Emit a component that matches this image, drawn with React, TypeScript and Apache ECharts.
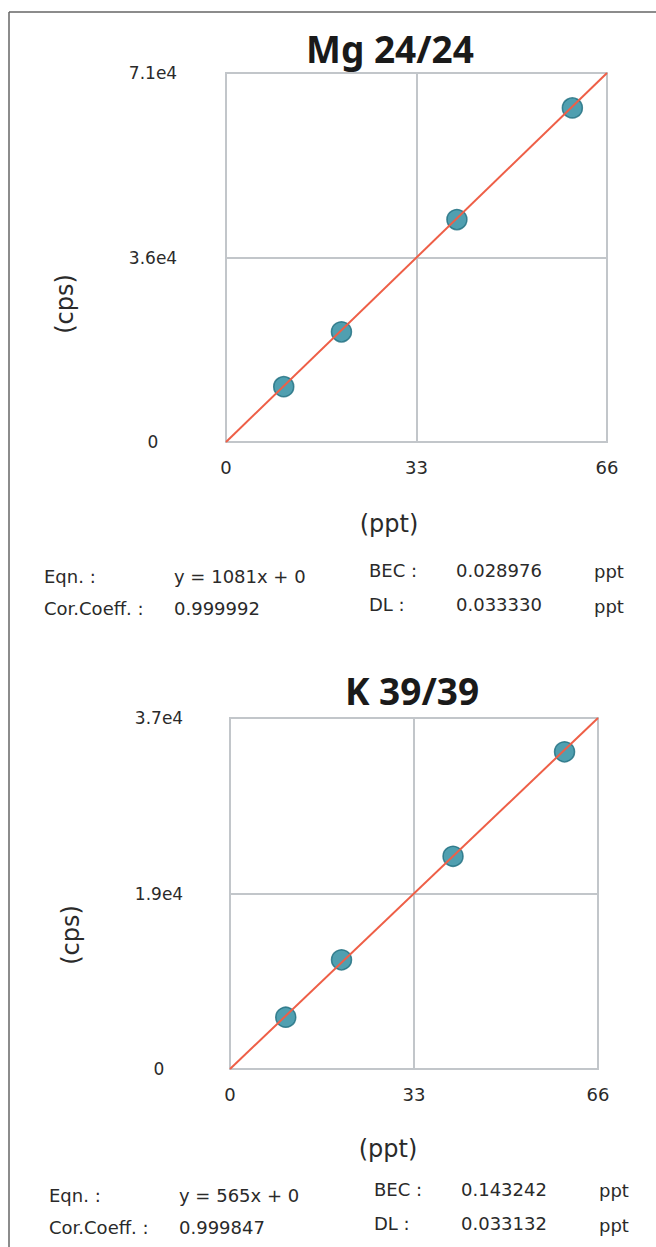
import React, { useEffect, useRef } from 'react';
import * as echarts from 'echarts';

// ---- data ----
const mgTitle = 'Mg 24/24';
const kTitle = 'K 39/39';
const mgConc = [10, 20, 40, 60];
const mgCps = [10700, 21300, 43000, 64600];
const kConc = [10, 20, 40, 60];
const kCps = [5500, 11600, 22600, 33700];
const xTickStep = 33;
const xMax = 66;
const mgYMax = 71346;
const kYMax = 37290;
const mgFitLine = [[0, 0], [66, 71346]];
const kFitLine = [[0, 0], [66, 37290]];
const mgStats = ['y = 1081x + 0', '0.999992', '0.028976', '0.033330'];
const kStats = ['y = 565x + 0', '0.999847', '0.143242', '0.033132'];
const statLabels = ['Eqn. :', 'Cor.Coeff. :', 'BEC :', 'DL :', 'ppt'];
const xName = '(ppt)';
const yName = '(cps)';

const FONT = '"DejaVu Sans", "Noto Sans", sans-serif';
const TFONT = '"Noto Sans", "Open Sans", sans-serif';
const TXT = '#2a2a2a';
const GRIDC = '#c2c6ca';

function fmtY(v: number) {
  if (v === 0) return '0';
  return v.toExponential(1).replace('e+', 'e');
}

function txt(x: number, y: number, text: string, size: number, opts: any = {}) {
  return {
    type: 'text',
    x,
    y,
    rotation: opts.rotation || 0,
    style: {
      text,
      fontSize: size,
      fontFamily: opts.font || FONT,
      fontWeight: opts.bold ? 'bold' : 'normal',
      fill: opts.color || TXT,
      align: opts.align || 'left',
      verticalAlign: 'middle',
    },
  };
}

export default function App() {
  const ref = useRef<HTMLDivElement>(null);
  useEffect(() => {
    document.body.style.margin = '0';
    const chart = echarts.init(ref.current!, null, { renderer: 'svg' });

    const grids = [
      { left: 226, top: 73, width: 381, height: 369 },
      { left: 230, top: 718, width: 368, height: 351 },
    ];
    const yMaxes = [mgYMax, kYMax];
    const labelCenters = [153, 159];

    const xAxes = grids.map((g, i) => ({
      type: 'value',
      gridIndex: i,
      min: 0,
      max: xMax,
      interval: xTickStep,
      axisLine: { show: true, lineStyle: { color: GRIDC, width: 2 } },
      axisTick: { show: false },
      axisLabel: { color: TXT, fontSize: 18, fontFamily: FONT, margin: 16 },
      splitLine: { show: true, lineStyle: { color: GRIDC, width: 2 } },
    }));
    const yAxes = grids.map((g, i) => ({
      type: 'value',
      gridIndex: i,
      min: 0,
      max: yMaxes[i],
      interval: yMaxes[i] / 2,
      axisLine: { show: true, lineStyle: { color: GRIDC, width: 2 } },
      axisTick: { show: false },
      axisLabel: {
        color: TXT,
        fontSize: 17,
        fontFamily: FONT,
        align: 'center',
        margin: g.left - labelCenters[i],
        formatter: (v: number) => fmtY(v),
      },
      splitLine: { show: true, lineStyle: { color: GRIDC, width: 2 } },
    }));

    const dot = {
      type: 'scatter',
      symbol: 'circle',
      symbolSize: 20,
      itemStyle: { color: '#24879c', borderColor: '#1b6c7d', borderWidth: 1.5 },
      z: 2,
    };
    const fit = {
      type: 'line',
      symbol: 'none',
      lineStyle: { color: '#ee5f47', width: 2 },
      z: 3,
    };

    const FS = 18;
    const statBlock = (top: number, left: number, vals: string[], row2: number, rightTop: number) => [
      txt(left, top, statLabels[0], FS),
      txt(left + 130, top, vals[0], FS),
      txt(left, row2, statLabels[1], FS),
      txt(left + 130, row2, vals[1], FS),
      txt(left + 325, rightTop, statLabels[2], FS),
      txt(left + 412, rightTop, vals[2], FS),
      txt(left + 550, rightTop + 1, statLabels[4], FS),
      txt(left + 325, rightTop + 34, statLabels[3], FS),
      txt(left + 412, rightTop + 34, vals[3], FS),
      txt(left + 550, rightTop + 36, statLabels[4], FS),
    ];

    chart.setOption({
      animation: false,
      backgroundColor: '#fff',
      grid: grids.map((g) => ({ ...g, show: true, borderColor: GRIDC, borderWidth: 2, backgroundColor: '#fff' })),
      xAxis: xAxes,
      yAxis: yAxes,
      series: [
        { ...dot, xAxisIndex: 0, yAxisIndex: 0, data: mgConc.map((c, i) => [c, mgCps[i]]) },
        { ...fit, xAxisIndex: 0, yAxisIndex: 0, data: mgFitLine },
        { ...dot, xAxisIndex: 1, yAxisIndex: 1, data: kConc.map((c, i) => [c, kCps[i]]) },
        { ...fit, xAxisIndex: 1, yAxisIndex: 1, data: kFitLine },
      ],
      graphic: [
        { type: 'line', shape: { x1: 9, y1: 12, x2: 656, y2: 12 }, style: { stroke: '#666', lineWidth: 1.5 } },
        { type: 'line', shape: { x1: 9, y1: 12, x2: 9, y2: 1247 }, style: { stroke: '#666', lineWidth: 1.5 } },
        txt(390, 48, mgTitle, 37, { bold: true, align: 'center', color: '#1a1a1a', font: TFONT }),
        txt(412, 690, kTitle, 37, { bold: true, align: 'center', color: '#1a1a1a', font: TFONT }),
        txt(389, 524, xName, 24, { align: 'center' }),
        txt(388, 1149, xName, 24, { align: 'center' }),
        txt(65, 304, yName, 24, { align: 'center', rotation: Math.PI / 2 }),
        txt(71, 935, yName, 24, { align: 'center', rotation: Math.PI / 2 }),
        ...statBlock(576, 44, mgStats, 608, 570),
        ...statBlock(1195, 49, kStats, 1227, 1189),
      ],
    });
    return () => chart.dispose();
  }, []);
  return <div ref={ref} style={{ position: 'absolute', left: 0, top: 0, width: 656, height: 1247 }} />;
}
